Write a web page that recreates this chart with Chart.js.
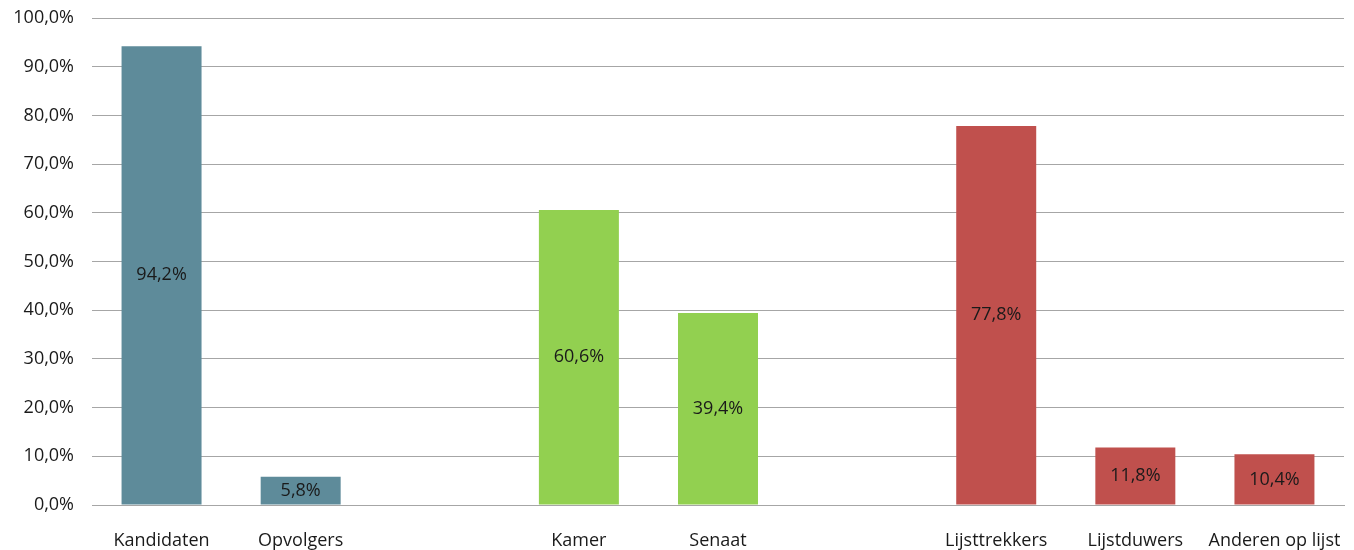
<!DOCTYPE html>
<html>
<head>
<meta charset="utf-8">
<script src="https://cdn.jsdelivr.net/npm/chart.js@4/dist/chart.umd.min.js"></script>
<style>
  html, body { margin: 0; padding: 0; background: #fff; }
  #wrap { width: 1354px; height: 550px; position: relative; }
</style>
</head>
<body>
<div id="wrap"><canvas id="myChart"></canvas></div>
<script>
// categories (empty strings are the gaps between groups)
const categories = ['Kandidaten', 'Opvolgers', '', 'Kamer', 'Senaat', '', 'Lijsttrekkers', 'Lijstduwers', 'Anderen op lijst'];
const values = [94.2, 5.8, null, 60.6, 39.4, null, 77.8, 11.8, 10.4];
const barColors = ['#5E8B9A', '#5E8B9A', null, '#92D050', '#92D050', null, '#C0504D', '#C0504D', '#C0504D'];
const yTicks = [0, 10, 20, 30, 40, 50, 60, 70, 80, 90, 100];

const fmt = v => v.toFixed(1).replace('.', ',') + '%';
const FONT = 'Open Sans';

// draws the value in the middle of each bar
const barLabels = {
    id: 'barLabels',
    afterDatasetsDraw(chart) {
        const ctx = chart.ctx;
        const meta = chart.getDatasetMeta(0);
        ctx.save();
        ctx.font = '18px "' + FONT + '"';
        ctx.fillStyle = '#1a1a1a';
        ctx.textAlign = 'center';
        ctx.textBaseline = 'middle';
        meta.data.forEach((bar, i) => {
            if (values[i] == null) return;
            const y = (bar.y + bar.base) / 2;
            ctx.fillText(fmt(values[i]), bar.x, y);
        });
        ctx.restore();
    }
};

new Chart(document.getElementById('myChart'), {
    type: 'bar',
    data: {
        labels: categories,
        datasets: [{
            data: values,
            backgroundColor: barColors,
            categoryPercentage: 1,
            barPercentage: 0.575
        }]
    },
    options: {
        responsive: true,
        maintainAspectRatio: false,
        animation: false,
        layout: { padding: { top: 18, right: 10, left: 0, bottom: 0 } },
        plugins: {
            legend: { display: false },
            tooltip: { enabled: false }
        },
        scales: {
            x: {
                grid: { display: false, drawTicks: false },
                border: { color: '#a6a6a6' },
                afterFit: axis => {
                    axis.height = 45;
                    axis.paddingLeft = 0;
                    axis.paddingRight = 0;
                },
                ticks: {
                    color: '#1a1a1a',
                    font: { family: FONT, size: 18 },
                    padding: 25,
                    autoSkip: false,
                    maxRotation: 0
                }
            },
            y: {
                min: 0,
                max: 100,
                afterBuildTicks: axis => { axis.ticks = yTicks.map(v => ({ value: v })); },
                afterFit: axis => {
                    axis.width = 92;
                    axis.paddingTop = 0;
                    axis.paddingBottom = 0;
                },
                grid: { color: '#a6a6a6', drawTicks: false },
                border: { display: false },
                ticks: {
                    color: '#1a1a1a',
                    font: { family: FONT, size: 18 },
                    padding: 18,
                    callback: v => fmt(v)
                }
            }
        }
    },
    plugins: [barLabels]
});
</script>
</body>
</html>
